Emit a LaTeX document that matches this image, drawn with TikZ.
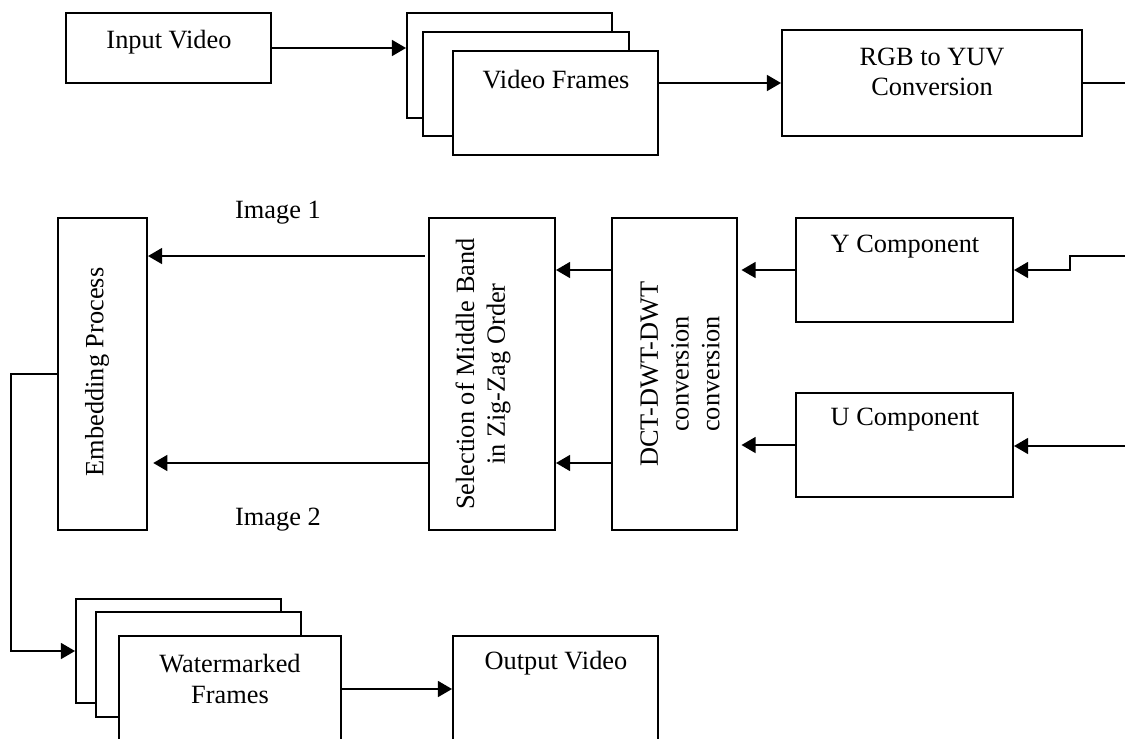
\documentclass[tikz,border=0pt]{standalone}
\usepackage{fontspec}
\setmainfont{Liberation Serif}
\usetikzlibrary{arrows.meta,positioning,calc}
\tikzset{
 box/.style={draw, line width=1.1pt, fill=white, inner sep=0pt},
 sz/.style 2 args={minimum width=#1*0.02cm, minimum height=#2*0.02cm},
 txt/.style={align=center, inner sep=0pt, font=\fontsize{15}{17.5}\selectfont},
 arrow/.style={-{Triangle[length=8pt,width=9pt]}, line width=1.1pt},
 plain/.style={line width=1.1pt}
}

\begin{document}
\begin{tikzpicture}[x=0.02cm,y=-0.02cm]
\clip (0,0) rectangle (1125,738);
% top row
\node[box, sz={205}{70}] (inp) at (168.5,48) {};
\node[txt] (inpt) at (169,42) {Input Video};
\node[box, sz={205}{105}] (vfc) at (509.5,65.5) {};
\node[box, sz={206}{104}] (vfb) at (526,84) {};
\node[box, sz={205}{104}] (vfa) at (555.5,103) {};
\node[txt] (vft) at (556,80) {Video Frames};
\node[box, sz={300}{106}] (rgb) at (932,83) {};
\node[txt] (rgbt) at (932,72) {RGB to YUV\\Conversion};
% middle row
\node[box, sz={217}{104}] (ycomp) at (904.5,270) {};
\node[txt] (ycompt) at (905,247) {Y Component};
\node[box, sz={217}{104}] (ucomp) at (904.5,445) {};
\node[txt] (ucompt) at (905,420) {U Component};
\node[box, sz={125}{312}] (dct) at (674.5,374) {};
\node[txt, rotate=90] (dctt) at (680,374) {DCT-DWT-DWT\\conversion\\conversion};
\node[box, sz={126}{312}] (sel) at (492,374) {};
\node[txt, rotate=90] (selt) at (483,374) {Selection of Middle Band\\in Zig-Zag Order};
\node[box, sz={89}{312}] (emb) at (102.5,374) {};
\node[txt, rotate=90] (embt) at (97,372) {Embedding Process};
% bottom row
\node[box, sz={205}{104}] (wmc) at (178.5,651) {};
\node[box, sz={205}{105}] (wmb) at (198.5,664.5) {};
\node[box, sz={222}{106}] (wma) at (230,689) {};
\node[txt] (wmt) at (230,679) {Watermarked\\Frames};
\node[box, sz={205}{106}] (outv) at (555.5,689) {};
\node[txt] (outvt) at (556,663) {Output Video};
% connectors
\draw[arrow] (inp.east) -- (inp.east -| vfc.west);
\draw[arrow] (vfa.east |- rgb.west) -- (rgb.west);
\coordinate (rgbout) at (1125,83);
\draw[plain] (rgb.east) -- (rgbout);
\coordinate (yin) at (1125,256);
\draw[arrow] (yin) -- ++(-55,0) |- (ycomp.east);
\coordinate (uin) at (1125,446);
\draw[arrow] (uin) -- (uin -| ucomp.east);
\draw[arrow, shorten >=2pt] (ycomp.west) -- (ycomp.west -| dct.east);
\draw[arrow, shorten >=2pt] (ucomp.west) -- (ucomp.west -| dct.east);
\draw[arrow] (dct.west |- ycomp.west) -- (sel.east |- ycomp.west);
\draw[arrow] ([yshift=-1.78cm]dct.west) -- ([yshift=-1.78cm]sel.east);
\draw[arrow, shorten <=2pt] ([yshift=2.36cm]sel.west) -- ([yshift=2.36cm]emb.east);
\node[txt] (img1) at (278,213) {Image 1};
\draw[arrow, shorten >=3pt] ([yshift=-1.78cm]sel.west) -- ([yshift=-1.78cm]emb.east);
\node[txt] (img2) at (278,520) {Image 2};
\draw[arrow] (emb.west) -- ++(-46,0) |- (wmc.west);
\draw[arrow] (wma.east) -- (outv.west);
\end{tikzpicture}
\end{document}
